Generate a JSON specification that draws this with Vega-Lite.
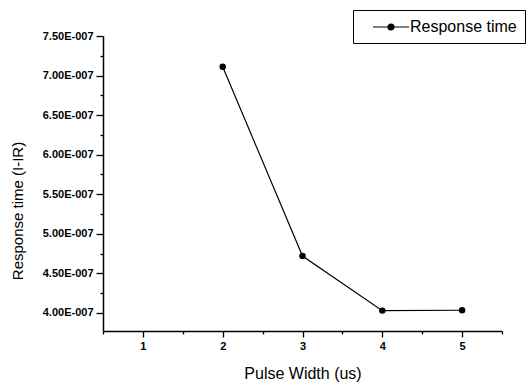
{
  "$schema": "https://vega.github.io/schema/vega-lite/v6.json",
  "width": 399,
  "height": 295,
  "autosize": "none",
  "padding": {"left": 103, "top": 36, "right": 27, "bottom": 54},
  "background": "white",
  "config": {
    "view": {"stroke": null},
    "font": "Liberation Sans",
    "axis": {"grid": false, "domainColor": "black", "tickColor": "black", "labelColor": "black", "titleColor": "black", "domainWidth": 1.5, "tickWidth": 1.3}
  },
  "data": {
    "values": [
      {"pw": 2, "rt": 7.112e-7},
      {"pw": 3, "rt": 4.72e-7},
      {"pw": 4, "rt": 4.03e-7},
      {"pw": 5, "rt": 4.035e-7}
    ]
  },
  "layer": [
    {
      "mark": {"type": "point", "opacity": 0},
      "encoding": {
        "x": {
          "field": "pw", "type": "quantitative",
          "scale": {"domain": [0.5, 5.5], "nice": false, "zero": false},
          "axis": {"orient": "bottom", "values": [0.5, 1.5, 2.5, 3.5, 4.5, 5.5], "labels": false, "domain": false, "tickSize": 3, "title": null}
        },
        "y": {
          "field": "rt", "type": "quantitative",
          "scale": {"domain": [3.7725e-7, 7.5e-7], "nice": false, "zero": false},
          "axis": {"orient": "left", "values": [4.25e-7, 4.75e-7, 5.25e-7, 5.75e-7, 6.25e-7, 6.75e-7, 7.25e-7], "labels": false, "domain": false, "tickSize": 3, "title": null}
        }
      }
    },
    {
      "mark": {"type": "line", "strokeWidth": 1.2, "point": {"filled": true, "size": 42, "opacity": 1}},
      "encoding": {
        "x": {
          "field": "pw", "type": "quantitative",
          "scale": {"domain": [0.5, 5.5], "nice": false, "zero": false},
          "axis": {
            "orient": "bottom", "values": [1, 2, 3, 4, 5], "format": "d",
            "labelFontSize": 11, "labelFontWeight": "bold", "labelPadding": 3, "tickSize": 6,
            "title": "Pulse Width (us)", "titleFontSize": 16, "titleFontWeight": "normal",
            "titleY": 47, "titleBaseline": "alphabetic"
          }
        },
        "y": {
          "field": "rt", "type": "quantitative",
          "scale": {"domain": [3.7725e-7, 7.5e-7], "nice": false, "zero": false},
          "axis": {
            "orient": "left", "values": [4e-7, 4.5e-7, 5e-7, 5.5e-7, 6e-7, 6.5e-7, 7e-7, 7.5e-7],
            "labelExpr": "replace(format(datum.value, '.2e'), 'e-', 'E-00')",
            "labelFontSize": 11, "labelFontWeight": "bold", "labelPadding": 3, "tickSize": 7,
            "title": "Response time (I-IR)", "titleFontSize": 15, "titleFontWeight": "normal",
            "titleX": -86, "titleY": 174.5, "titleBaseline": "middle", "titleAlign": "center"
          }
        },
        "color": {
          "datum": "Response time",
          "type": "nominal",
          "scale": {"range": ["black"]},
          "legend": {
            "title": null,
            "orient": "none",
            "legendX": 250,
            "legendY": -26,
            "padding": 8,
            "strokeColor": "black",
            "fillColor": "white",
            "labelFontSize": 16,
            "labelColor": "black",
            "labelOffset": 31,
            "symbolSize": 256,
            "symbolType": "M0.375,0H4.875M3,0A0.375,0.375,0,1,1,2.25,0A0.375,0.375,0,1,1,3,0Z",
            "encode": {
              "symbols": {
                "update": {
                  "fill": {"value": "black"},
                  "stroke": {"value": "black"},
                  "strokeWidth": {"value": 1.2},
                  "opacity": {"value": 1}
                }
              }
            }
          }
        }
      }
    }
  ],
  "resolve": {"axis": {"x": "independent", "y": "independent"}}
}
